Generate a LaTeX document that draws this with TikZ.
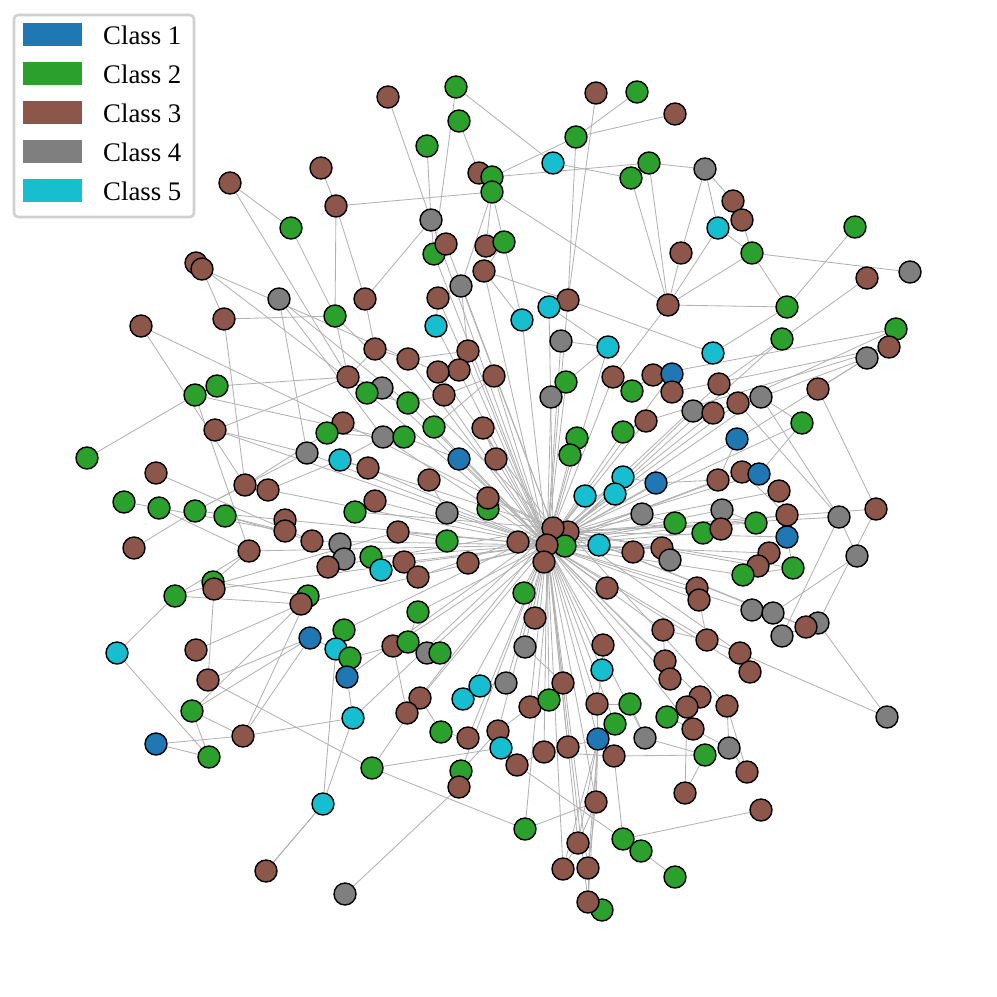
\documentclass[tikz,border=0pt]{standalone}
\usepackage{fontspec}
\setmainfont{Liberation Serif}
\pgfdeclarelayer{bg}
\pgfsetlayers{bg,main}
\definecolor{cB}{HTML}{1F77B4}
\definecolor{cG}{HTML}{2CA02C}
\definecolor{cR}{HTML}{8C564B}
\definecolor{cK}{HTML}{7F7F7F}
\definecolor{cC}{HTML}{17BECF}
\definecolor{edgegray}{RGB}{178,178,178}
\definecolor{framegray}{RGB}{208,208,208}
\tikzset{
  nd/.style={circle,draw=black,line width=1.4pt,minimum size=22pt,inner sep=0pt},
  edge/.style={draw=edgegray,line width=0.85pt},
  legtext/.style={anchor=west,inner sep=0pt,font=\fontsize{26.8}{28}\selectfont}
}
\begin{document}
\begin{tikzpicture}[x=1pt,y=-1pt]
\useasboundingbox (0,0) rectangle (997,997);
% nodes
\foreach \x/\y/\c [count=\i] in {
388/97/R, 456/87/G, 596/93/R, 637/92/G, 675/114/R, 459/121/G, 576/137/G, 427/146/G, 553/163/C, 649/163/G,
705/169/K, 631/178/G, 479/173/R, 492/177/G, 492/192/G, 321/168/R, 230/183/R, 336/206/R, 733/201/R, 742/220/R,
718/228/C, 855/227/G, 291/228/G, 431/220/K, 434/254/G, 446/244/R, 486/246/R, 504/242/G, 484/271/R, 681/253/R,
752/253/G, 867/278/R, 910/272/K, 196/263/R, 202/269/R, 279/299/K, 365/299/R, 438/298/R, 461/286/K, 568/300/R,
549/307/C, 522/320/C, 436/326/C, 335/316/G, 224/319/R, 141/326/R, 668/305/R, 787/307/G, 896/329/G, 889/347/R,
867/358/K, 782/339/G, 713/353/C, 608/347/C, 561/341/K, 375/349/R, 408/359/R, 468/351/R, 459/370/R, 438/372/R,
494/376/R, 348/377/R, 382/388/K, 367/393/G, 566/382/G, 551/397/K, 613/377/R, 632/391/G, 653/375/R, 672/374/B,
672/392/R, 719/384/R, 761/397/K, 738/403/R, 818/389/R, 693/411/K, 713/413/R, 195/395/G, 217/386/G, 215/430/R,
87/458/G, 156/473/R, 124/502/G, 159/508/G, 195/511/G, 225/516/G, 245/485/R, 268/490/R, 134/548/R, 408/403/G,
444/395/R, 343/423/R, 327/433/G, 307/453/K, 340/460/C, 383/437/K, 404/437/G, 434/427/G, 483/428/R, 459/459/B,
496/459/R, 368/468/R, 429/480/R, 577/438/G, 570/455/G, 623/432/G, 646/421/R, 737/439/B, 802/423/G, 742/472/R,
759/474/B, 718/480/R, 656/483/B, 623/477/C, 615/494/C, 585/496/C, 488/509/G, 488/498/R, 447/513/K, 375/501/R,
355/512/G, 285/520/R, 285/531/R, 312/541/R, 779/491/R, 787/515/R, 787/537/B, 756/523/G, 722/510/K, 703/533/G,
675/523/G, 642/514/K, 876/509/R, 839/517/K, 857/556/K, 769/553/R, 758/566/R, 743/575/G, 793/568/G, 398/532/R,
447/541/G, 518/542/R, 568/532/R, 553/528/R, 565/546/G, 547/545/R, 544/562/R, 599/545/C, 633/552/R, 662/548/R,
670/560/K, 721/529/R, 249/551/R, 340/544/K, 344/559/K, 328/567/R, 371/557/G, 381/570/C, 404/562/R, 418/577/R,
468/563/R, 213/582/G, 214/589/R, 175/596/G, 308/596/G, 301/604/R, 524/593/G, 607/588/R, 697/588/R, 699/600/R,
752/610/K, 773/613/K, 818/623/K, 806/627/R, 782/636/K, 418/612/G, 535/618/R, 663/630/R, 707/640/R, 344/630/G,
310/638/B, 336/649/C, 350/658/G, 393/646/R, 408/642/G, 427/653/K, 440/653/G, 525/647/K, 603/645/R, 740/653/R,
665/661/R, 750/672/R, 117/653/C, 196/650/R, 347/677/B, 208/680/R, 602/670/C, 563/683/R, 420/698/R, 407/713/R,
463/699/C, 480/686/C, 506/683/K, 530/707/R, 549/700/G, 597/704/R, 630/704/G, 670/679/R, 700/697/R, 687/707/R,
667/717/G, 727/706/R, 615/724/G, 598/739/B, 614/756/R, 645/738/K, 693/729/R, 705/755/G, 729/748/K, 747/772/R,
353/718/C, 192/711/G, 243/736/R, 156/744/B, 209/757/G, 441/732/G, 468/738/R, 498/731/R, 501/748/C, 517/765/R,
544/752/R, 568/747/R, 372/768/G, 461/771/G, 459/787/R, 685/793/R, 596/802/R, 761/810/R, 323/804/C, 525/829/G,
578/843/R, 623/839/G, 641/851/G, 563/869/R, 588/868/R, 675/877/G, 602/910/G, 588/902/R, 266/871/R, 345/894/K,
887/717/K}
{ \node[nd,fill=c\c] (n\i) at (\x,\y) {}; }
\begin{pgfonlayer}{bg}
% hub spokes
\foreach \j in {24,25,29,38,40,42,43,55,57,58,61,62,63,65,66,67,70,72,74,77,80,88,90,91,94,96,98,99,100,101,
  102,104,105,106,107,108,110,112,113,114,115,116,119,120,122,124,126,129,130,131,132,136,138,140,142,148,149,150,
  153,157,159,161,163,166,167,168,169,170,171,176,177,178,179,184,186,188,189,191,192,197,198,199,201,203,204,205,
  206,208,209,213,214,216,217,227,228,231,232,237,241,244,245,248}
{ \draw[edge] (n146) -- (n\j); }
\foreach \j in {26,39,41,54,44,60,92,95,118,121,156,160,180,195,200,221,234,240}
{ \draw[edge] (n144) -- (n\j); }
\foreach \j in {73,52,76,109,111,125,127,128,133,134,137,139,172,174,190,212}
{ \draw[edge] (n143) -- (n\j); }
% other edges
\foreach \a/\b in {17/23,23/44,35/45,35/60,16/18,18/44,45/44,46/92,36/90,36/96,45/87,
  1/24,2/9,6/13,8/24,2/25,18/15,14/7,7/4,7/5,3/40,7/40,14/10,15/47,10/47,12/47,18/37,24/37,24/25,15/42,
  15/27,15/39,29/42,29/40,40/53,47/67,11/10,11/30,11/21,11/19,21/31,20/31,31/33,31/48,22/48,32/52,47/48,
  47/21,47/31,30/47,48/53,49/77,50/71,51/73,75/133,75/51,73/134,74/134,133/173,134/175,135/172,109/111,
  73/109,52/72,173/251,251/190,238/242,246/243,236/210,220/219,220/212,218/215,193/164,193/225,196/163,
  196/233,222/181,222/223,222/166,224/223,223/221,223/165,223/181,239/249,239/221,239/182,250/235,233/229,
  233/199,233/240,240/237,234/228,242/230,81/78,78/153,79/62,78/96,80/62,80/94,82/124,83/84,84/123,84/153,
  85/87,85/94,89/85,86/124,87/93,88/95,153/162,153/164,164/166,164/140,95/102,95/96,92/93,93/96,63/64,
  62/63,56/57,57/58,59/60,91/90,91/61,70/69,70/71,71/76,72/74,73/74,76/77,108/112,110/111,112/113,125/126,
  126/127,128/129,129/130,136/137,137/138,138/139,139/127,171/172,172/174,169/170,178/179,190/192,191/208,
  209/210,211/217,212/219,216/218,219/217,214/241,214/244,214/245,214/248,214/237,214/206,214/213,214/215,
  214/232,206/207,205/204,204/228,227/226,226/199,201/202,202/203,200/199,200/184,221/195,195/183,182/181,
  183/185,185/187,186/187,188/198,197/189,197/206,245/248,244/241,237/241,237/245,243/242,215/242,230/231,
  231/232,234/235,229/228,50/107,49/69,51/108,54/55,54/41,65/66,67/68,9/12,178/191,179/190,179/169,
  36/94,17/62,34/64,46/87,122/85,123/86,165/162,181/196,194/166,180/182,176/185,160/159,158/157,155/154,
  121/120,141/140,103/119,117/118,99/101,100/97,98/61,56/62,58/59,64/90,26/25,27/28,28/29,38/39,43/38,
  37/56,44/62,39/58,54/65,68/69,106/107,113/114,115/116,104/105,131/132,150/151,152/129,148/149,
  110/126,135/134,174/175,236/218,216/207,211/210,215/231,230/229,225/222,225/224,249/239}
{ \draw[edge] (n\a) -- (n\b); }
\end{pgfonlayer}
% legend
\draw[framegray,line width=2.6pt,rounded corners=4pt,fill=white] (14,15) rectangle (194,217);
\foreach \c/\t [count=\k from 0] in {cB/Class 1,cG/Class 2,cR/Class 3,cK/Class 4,cC/Class 5}
{
  \fill[\c] (23,23+39*\k) rectangle (82,46+39*\k);
  \node[legtext] (leg\k) at (103,35+39*\k) {\t};
}
\end{tikzpicture}
\end{document}
